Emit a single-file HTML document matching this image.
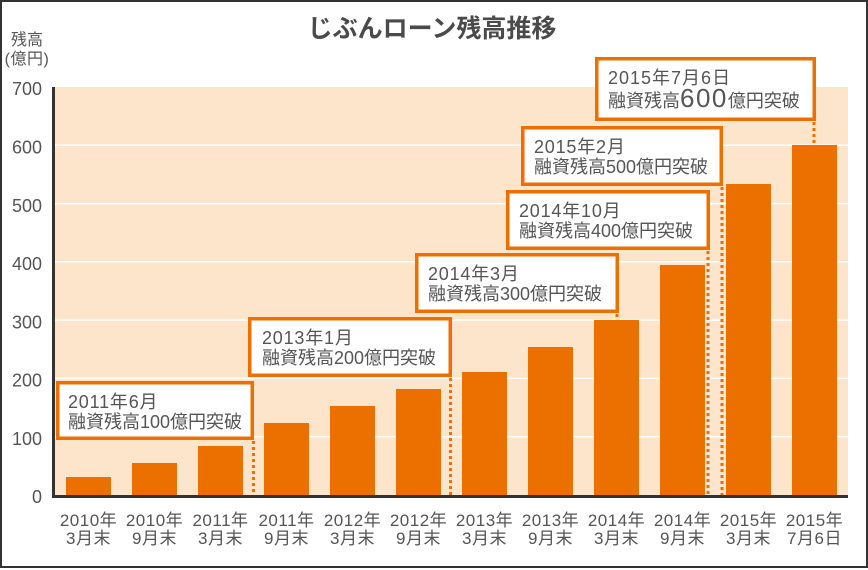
<!DOCTYPE html>
<html>
<head>
<meta charset="utf-8">
<style>
  html, body { margin: 0; padding: 0; background: #fff; }
  svg { display: block; }
  text { font-family: "Liberation Sans", "Noto Sans CJK JP", sans-serif; fill: #555; }
</style>
</head>
<body>
<svg width="868" height="570" viewBox="0 0 868 570" xmlns="http://www.w3.org/2000/svg">
  <rect x="0" y="0" width="868" height="570" fill="#fff"/>
  <rect x="1" y="1" width="866" height="566" fill="none" stroke="#333" stroke-width="2"/>

  <!-- title -->
  <text x="432" y="37" text-anchor="middle" font-size="25" font-weight="bold" style="fill:#4a4a4a">じぶんローン残高推移</text>

  <!-- y axis title -->
  <text x="27" y="45" text-anchor="middle" font-size="16">残高</text>
  <text x="27" y="64" text-anchor="middle" font-size="16" letter-spacing="0.5">(億円)</text>

  <!-- plot background -->
  <rect x="55" y="87" width="793" height="408" fill="#FCE5CB"/>
  <!-- gridlines -->
  <g stroke="#ffffff" stroke-width="1.5">
    <line x1="55" y1="436.7" x2="848" y2="436.7"/>
    <line x1="55" y1="378.4" x2="848" y2="378.4"/>
    <line x1="55" y1="320.1" x2="848" y2="320.1"/>
    <line x1="55" y1="261.8" x2="848" y2="261.8"/>
    <line x1="55" y1="203.6" x2="848" y2="203.6"/>
    <line x1="55" y1="145.3" x2="848" y2="145.3"/>
  </g>

  <!-- y tick labels -->
  <g font-size="18" text-anchor="end">
    <text x="42" y="95">700</text>
    <text x="42" y="153.5">600</text>
    <text x="42" y="212">500</text>
    <text x="42" y="270">400</text>
    <text x="42" y="328.5">300</text>
    <text x="42" y="386.5">200</text>
    <text x="42" y="445">100</text>
    <text x="42" y="503">0</text>
  </g>

  <!-- bars -->
  <g fill="#EC7000">
    <rect x="66" y="477" width="45" height="18"/>
    <rect x="132" y="463" width="45" height="32"/>
    <rect x="198" y="446" width="45" height="49"/>
    <rect x="264" y="423" width="45" height="72"/>
    <rect x="330" y="406" width="45" height="89"/>
    <rect x="396" y="389" width="45" height="106"/>
    <rect x="462" y="372" width="45" height="123"/>
    <rect x="528" y="347" width="45" height="148"/>
    <rect x="594" y="320" width="45" height="175"/>
    <rect x="660" y="265" width="45" height="230"/>
    <rect x="726" y="184" width="45" height="311"/>
    <rect x="792" y="145" width="45" height="350"/>
  </g>

  <!-- dotted leader lines -->
  <g stroke="#EC7000" stroke-width="3" stroke-dasharray="3 3">
    <line x1="253.5" y1="441" x2="253.5" y2="495"/>
    <line x1="450.5" y1="378" x2="450.5" y2="495"/>
    <line x1="617" y1="314" x2="617" y2="320"/>
    <line x1="708" y1="251" x2="708" y2="495"/>
    <line x1="722" y1="187" x2="722" y2="495"/>
    <line x1="814" y1="122" x2="814" y2="145"/>
  </g>

  <!-- axes -->
  <rect x="52" y="87" width="3" height="411" fill="#333"/>
  <rect x="52" y="495" width="796" height="3" fill="#333"/>

  <!-- annotation boxes -->
  <g fill="#fff" stroke="#EC7000" stroke-width="3.5">
    <rect x="57.75" y="382.75" width="194.5" height="55.5"/>
    <rect x="249.75" y="318.75" width="200.5" height="56.5"/>
    <rect x="416.75" y="254.75" width="200.5" height="56.5"/>
    <rect x="507.75" y="191.75" width="200.5" height="56.5"/>
    <rect x="522.75" y="127.75" width="198.5" height="56.5"/>
    <rect x="596.75" y="58.75" width="217.5" height="60.5"/>
  </g>

  <g font-size="18">
    <text x="68" y="408" letter-spacing="0.8">2011年6月</text>
    <text x="68" y="428">融資残高100億円突破</text>

    <text x="262" y="344" letter-spacing="0.8">2013年1月</text>
    <text x="262" y="364">融資残高200億円突破</text>

    <text x="428" y="280" letter-spacing="0.8">2014年3月</text>
    <text x="428" y="300">融資残高300億円突破</text>

    <text x="519" y="217" letter-spacing="0.8">2014年10月</text>
    <text x="519" y="237">融資残高400億円突破</text>

    <text x="534" y="153" letter-spacing="0.8">2015年2月</text>
    <text x="534" y="173">融資残高500億円突破</text>

    <text x="608" y="84" letter-spacing="1">2015年7月6日</text>
    <text x="608" y="107">融資残高<tspan font-size="26" letter-spacing="1.5">600</tspan>億円突破</text>
  </g>

  <!-- x labels -->
  <g font-size="17" text-anchor="middle" letter-spacing="0.5">
    <text x="88.5" y="526">2010年</text><text x="88.5" y="544">3月末</text>
    <text x="154.5" y="526">2010年</text><text x="154.5" y="544">9月末</text>
    <text x="220.5" y="526">2011年</text><text x="220.5" y="544">3月末</text>
    <text x="286.5" y="526">2011年</text><text x="286.5" y="544">9月末</text>
    <text x="352.5" y="526">2012年</text><text x="352.5" y="544">3月末</text>
    <text x="418.5" y="526">2012年</text><text x="418.5" y="544">9月末</text>
    <text x="484.5" y="526">2013年</text><text x="484.5" y="544">3月末</text>
    <text x="550.5" y="526">2013年</text><text x="550.5" y="544">9月末</text>
    <text x="616.5" y="526">2014年</text><text x="616.5" y="544">3月末</text>
    <text x="682.5" y="526">2014年</text><text x="682.5" y="544">9月末</text>
    <text x="748.5" y="526">2015年</text><text x="748.5" y="544">3月末</text>
    <text x="814.5" y="526">2015年</text><text x="814.5" y="544">7月6日</text>
  </g>
</svg>
</body>
</html>
